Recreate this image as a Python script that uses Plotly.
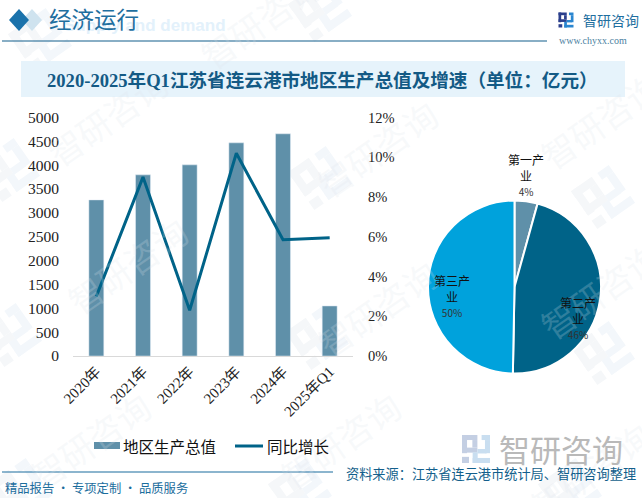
import math
import plotly.graph_objects as go

W, H = 642, 498

# 柱线数据
years = ["2020年", "2021年", "2022年", "2023年", "2024年", "2025年Q1"]
gdp = [3273, 3798, 4007, 4469, 4658, 1049]
growth = [3.0, 9.0, 2.3, 10.2, 5.85, 5.95]

# 饼图数据
pie_names = ["第一产业", "第二产业", "第三产业"]
pie_values = [4.3, 46.0, 49.7]
pie_wrapped = ["第一产<br>业", "第二产<br>业", "第三产<br>业"]
pie_label_x = [526, 578, 452]
pie_label_y = [175, 318, 296]

title = "2020-2025年Q1江苏省连云港市地区生产总值及增速（单位：亿元）"
source = "资料来源：江苏省连云港市统计局、智研咨询整理"
slogan = "精品报告 · 专项定制 · 品质服务"

BAR = "#5f90a9"
LINE = "#006388"
SKY = "#00a2dc"
NAVY = "#135f8c"
SERIF = "Liberation Serif, Noto Sans CJK SC"
SANS = "Noto Sans CJK SC"

# 水印位置
mark_text_pos = [(107, 117), (127, 265), (377, 148), (377, 308), (90, 440), (340, 440),
                 (600, 120), (600, 290), (590, 470), (260, 20)]
mark_logo_pos = [(320, 178), (317, 338), (603, 197), (603, 353), (8, 170), (10, 335),
                 (40, 40), (320, 10), (20, 490), (300, 490), (570, 490)]


def px(x):
    return x / W


def py(y):
    return 1 - y / H


# 文字挂在隐藏的像素坐标轴上，方便按图上的像素位置摆放
def text_at(x, y, s, size, color, font=SANS, anchor="left", angle=0):
    return dict(xref="x3", yref="y3", x=x, y=y, text=s, showarrow=False,
                xanchor=anchor, yanchor="middle", textangle=angle,
                font=dict(size=size, color=color, family=font))


def rect(x0, y0, x1, y1, color, layer="below"):
    return dict(type="rect", xref="paper", yref="paper", x0=px(x0), x1=px(x1),
                y0=py(y0), y1=py(y1), fillcolor=color, line_width=0, layer=layer)


def hline(x0, x1, y, color, width=1.2):
    return dict(type="line", xref="paper", yref="paper", x0=px(x0), x1=px(x1),
                y0=py(y), y1=py(y), line=dict(color=color, width=width), layer="below")


def poly(points, color, layer="below"):
    d = "M" + " L".join(f"{px(a):.5f},{py(b):.5f}" for a, b in points) + " Z"
    return dict(type="path", xref="paper", yref="paper", path=d, fillcolor=color,
                line_width=0, layer=layer)


def logo(cx, cy, size, c1, c2, angle=0):
    # 智研的方块图标，拆成几个小矩形
    parts = [
        ((-.5, -.5, .05, -.32), c1), ((-.5, -.5, -.32, .15), c1), ((-.13, -.32, .05, -.05), c1),
        ((-.5, -.05, .05, .13), c1), ((-.5, .28, -.25, .5), c1),
        ((.2, -.5, .5, -.32), c2), ((.32, -.32, .5, .15), c2), ((.05, .0, .38, .16), c2),
        ((-.12, .32, .5, .5), c2), ((-.12, .12, .06, .5), c2),
    ]
    a = math.radians(angle)
    out = []
    for (x0, y0, x1, y1), c in parts:
        pts = []
        for u, v in [(x0, y0), (x1, y0), (x1, y1), (x0, y1)]:
            pts.append((cx + size * (u * math.cos(a) - v * math.sin(a)),
                        cy + size * (u * math.sin(a) + v * math.cos(a))))
        out.append(poly(pts, c))
    return out


fig = go.Figure()

fig.add_trace(go.Bar(x=years, y=gdp, name="地区生产总值", marker_color=BAR, xaxis="x", yaxis="y"))
fig.add_trace(go.Scatter(x=years, y=growth, name="同比增长", mode="lines",
                         line=dict(color=LINE, width=3), xaxis="x", yaxis="y2"))
fig.add_trace(go.Pie(labels=pie_names, values=pie_values, sort=False, direction="clockwise",
                     rotation=0, textinfo="none", hole=0,
                     marker=dict(colors=[BAR, LINE, SKY], line=dict(color="white", width=2)),
                     domain=dict(x=[px(428), px(601)], y=[py(374), py(200)])))
# 占位，让像素坐标轴存在
fig.add_trace(go.Scatter(x=[0], y=[0], mode="none", xaxis="x3", yaxis="y3", hoverinfo="skip"))

shapes = []
annotations = []

# 水印
for x, y in mark_logo_pos:
    shapes += logo(x, y, 46, "#f5f7f9", "#f3f7fb", angle=-35)
for x, y in mark_text_pos:
    annotations.append(text_at(x, y, "智研咨询", 34, "rgba(222,228,236,0.22)", anchor="center", angle=-35))

# 页眉
shapes.append(poly([(32, 9), (42, 20), (32, 31), (22, 20)], "#cfe3ef"))
shapes.append(poly([(19, 9), (29, 20), (19, 31), (9, 20)], "#1a72ab"))
shapes.append(hline(2, 547, 41, NAVY))
annotations.append(text_at(228, 25, "<b>Supply and demand</b>", 17, "#e3f1fb", font="Liberation Sans", anchor="right"))
annotations.append(text_at(47, 20, "经济运行", 22.5, "#1f6f9f", font=SERIF))
shapes += logo(566, 20, 15, "#2b3f8c", "#2a86d0")
annotations.append(text_at(581, 20, "智研咨询", 14, "#1f6f9f"))
annotations.append(text_at(557, 40, "www.chyxx.com", 10, "#4c7f9f", font="Liberation Serif"))

# 标题条
shapes.append(rect(21, 61, 625, 97, "#e6f3fb"))
annotations.append(text_at(322, 80, "<b>" + title + "</b>", 18.6, "#135a85", font=SERIF, anchor="center"))

# 图例，色块比自带图例宽，手工画
shapes.append(rect(94, 442, 120, 449, BAR, layer="above"))
shapes.append(hline(235, 263, 446, LINE, width=3))
annotations.append(text_at(121, 446, "地区生产总值", 15.5, "#111111"))
annotations.append(text_at(265, 446, "同比增长", 15.5, "#111111"))

# 饼图标签
for i, name in enumerate(pie_wrapped):
    pct = round(pie_values[i] / sum(pie_values) * 100)
    label = name + "<br><span style='font-size:10px;color:#333333'>" + str(pct) + "%</span>"
    annotations.append(text_at(pie_label_x[i], pie_label_y[i], label, 12, "#111111", anchor="center"))

# 页脚
shapes += logo(476, 449, 28, "#c4cfe3", "#c9def0")
annotations.append(text_at(497, 448, "智研咨询", 31, "#b9b9b9"))
shapes.append(hline(2, 333, 472, "#1b6d9d"))
annotations.append(text_at(344, 473, source, 13.2, NAVY))
annotations.append(text_at(3, 488, slogan, 12.3, "#1b6d9d"))

# 默认模板的 automargin 会把边距撑开，全部关掉
fig.update_layout(
    width=W, height=H, margin=dict(l=0, r=0, t=0, b=0), autosize=False,
    paper_bgcolor="white", plot_bgcolor="rgba(0,0,0,0)", showlegend=False,
    bargap=0.68, shapes=shapes, annotations=annotations,
    xaxis=dict(domain=[px(73), px(353)], automargin=False, showgrid=False, zeroline=False, showline=True,
               linecolor="#d9d9d9", linewidth=1, ticks="", tickangle=-45,
               tickfont=dict(size=15, color="#222222", family=SERIF)),
    yaxis=dict(domain=[py(356), py(117.5)], automargin=False, range=[0, 5000], dtick=500, showgrid=False,
               zeroline=False, ticks="outside", ticklen=10, tickcolor="rgba(0,0,0,0)",
               tickfont=dict(size=15.5, color="#222222", family=SERIF)),
    yaxis2=dict(domain=[py(356), py(117.5)], automargin=False, range=[0, 12], dtick=2, overlaying="y", side="right",
                anchor="x", showgrid=False, zeroline=False, ticksuffix="%", ticks="outside", ticklen=11,
                tickcolor="rgba(0,0,0,0)", tickfont=dict(size=14.5, color="#222222", family=SERIF)),
    xaxis3=dict(domain=[0, 1], automargin=False, range=[0, W], visible=False, anchor="y3"),
    yaxis3=dict(domain=[0, 1], automargin=False, range=[H, 0], visible=False, anchor="x3"),
)

fig.write_html("out.html", config=dict(displayModeBar=False), post_script="document.body.style.setProperty('margin','0','important');")
